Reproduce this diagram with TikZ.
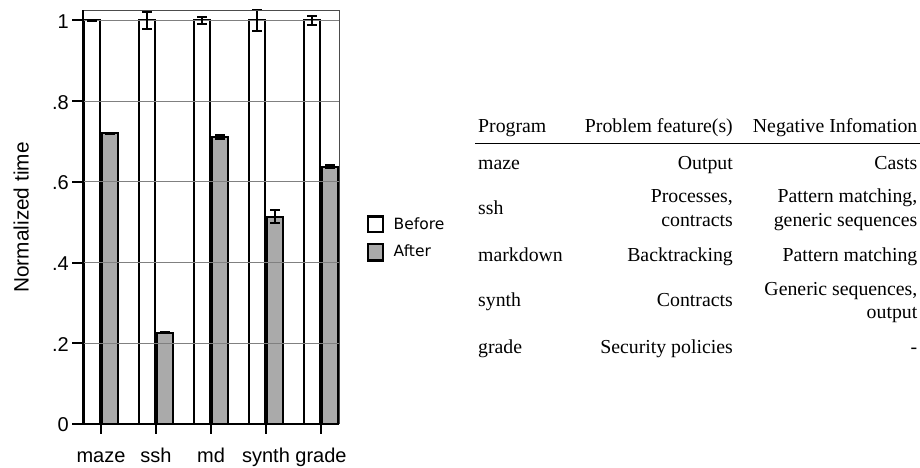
\documentclass[tikz,border=0pt]{standalone}
\usepackage{fontspec}
\setmainfont{Liberation Serif}
\newfontfamily\chartfont{Liberation Sans}
\newfontfamily\legendfont{DejaVu Sans}
\definecolor{barfill}{HTML}{AAAAAA}
\definecolor{gridgray}{HTML}{808080}
\begin{document}
\begin{tikzpicture}[x=1pt,y=-1pt,
  axisline/.style={line width=2pt,black},
  gridline/.style={line width=1pt,gridgray},
  framebox/.style={line width=1pt,black!70},
  beforebar/.style={draw=black,fill=white,line width=2pt},
  afterbar/.style={draw=black,fill=barfill,line width=2pt},
  errbar/.style={line width=2pt,black},
  ticklab/.style={font=\chartfont\fontsize{20}{23}\selectfont,inner sep=0pt},
  legendbox/.style={draw=black,line width=2.5pt},
  legendlab/.style={font=\legendfont\fontsize{15.5}{18}\selectfont,inner sep=0pt,anchor=base west},
  cell/.style={font=\fontsize{19.8}{23.3}\selectfont,inner sep=0pt},
  celll/.style={cell,anchor=base west},
  cellr/.style={cell,anchor=base east},
]
\useasboundingbox (0,0) rectangle (920,468);

% ---- bar chart: x in px, y in normalized time units ----
\begin{scope}[shift={(0,424)}, y=403.5pt]
  % bars
  \foreach \c/\bv/\av in {101/1/0.720, 156/1/0.226, 211/1/0.712, 266/1/0.514, 321/1/0.638} {
    \draw[beforebar] (\c-17,0) rectangle (\c-1,\bv);
    \draw[afterbar]  (\c+1,0) rectangle (\c+17,\av);
  }
  % horizontal grid
  \foreach \v in {0.2,0.4,0.6,0.8,1} \draw[gridline] (83,\v) -- (339,\v);
  % error bars
  \foreach \c/\bv/\be/\av/\ae in {101/1/0.002/0.720/0.002, 156/1/0.02/0.226/0.001,
      211/1/0.009/0.712/0.005, 266/1/0.025/0.514/0.017, 321/1/0.012/0.638/0.003} {
    \draw[errbar] (\c-9,\bv-\be) -- (\c-9,\bv+\be)
                  (\c-14,\bv-\be) -- (\c-4,\bv-\be)
                  (\c-14,\bv+\be) -- (\c-4,\bv+\be);
    \draw[errbar] (\c+9,\av-\ae) -- (\c+9,\av+\ae)
                  (\c+4,\av-\ae) -- (\c+14,\av-\ae)
                  (\c+4,\av+\ae) -- (\c+14,\av+\ae);
  }
  % plot frame and axes
  \draw[framebox] (83,1.026) -- (339,1.026) -- (339,0);
  \draw[axisline] (83,1.026) -- (83,0);
  \draw[axisline] (72,0) -- (339,0);
  % y ticks and labels
  \foreach \v/\t/\n in {0/0/a, 0.2/.2/b, 0.4/.4/c, 0.6/.6/d, 0.8/.8/e, 1/1/f} {
    \draw[axisline] (72,\v) -- (83,\v);
    \node[ticklab,anchor=east,yshift=-1pt] (ytick\n) at (69,\v) {\t};
  }
\end{scope}

% x ticks and category labels
\foreach \c/\lab in {101/maze, 156/ssh, 211/md, 266/synth, 321/grade} {
  \draw[axisline] (\c,424) -- (\c,434);
  \node[ticklab,anchor=base] (xl-\lab) at (\c,462.5) {\lab};
}
\node[ticklab,font=\chartfont\fontsize{20.8}{24}\selectfont,rotate=90,anchor=base]
  (ylabel) at (28.5,217.5) {Normalized time};

% legend
\draw[legendbox,fill=white]   (368,216.3) rectangle (383,232);
\draw[legendbox,fill=barfill] (368,244) rectangle (383,260.3);
\node[legendlab] (lgbefore) at (393.5,229.3) {Before};
\node[legendlab] (lgafter)  at (393.5,256.7) {After};

% ---- table ----
\node[celll] (h1) at (478,132.5) {Program};
\node[cellr] (h2) at (733,132.5) {Problem feature(s)};
\node[cellr] (h3) at (917.5,132.5) {Negative Infomation};
\draw[line width=1.5pt] (475,143.3) -- (920,143.3);

\node[celll] (r1a) at (478,169) {maze};
\node[cellr] (r1b) at (733,169) {Output};
\node[cellr] (r1c) at (917.5,169) {Casts};

\node[celll] (r2a) at (478,214.5) {ssh};
\node[cellr] (r2b1) at (733,202.8) {Processes,};
\node[cellr] (r2b2) at (733,226.2) {contracts};
\node[cellr] (r2c1) at (917.5,202.8) {Pattern matching,};
\node[cellr] (r2c2) at (917.5,226.2) {generic sequences};

\node[celll] (r3a) at (478,261.5) {markdown};
\node[cellr] (r3b) at (733,261.5) {Backtracking};
\node[cellr] (r3c) at (917.5,261.5) {Pattern matching};

\node[celll] (r4a) at (478,306) {synth};
\node[cellr] (r4b) at (733,306) {Contracts};
\node[cellr] (r4c1) at (917.5,295) {Generic sequences,};
\node[cellr] (r4c2) at (917.5,318) {output};

\node[celll] (r5a) at (478,353) {grade};
\node[cellr] (r5b) at (733,353) {Security policies};
\node[cellr] (r5c) at (917.5,353) {-};
\end{tikzpicture}
\end{document}
